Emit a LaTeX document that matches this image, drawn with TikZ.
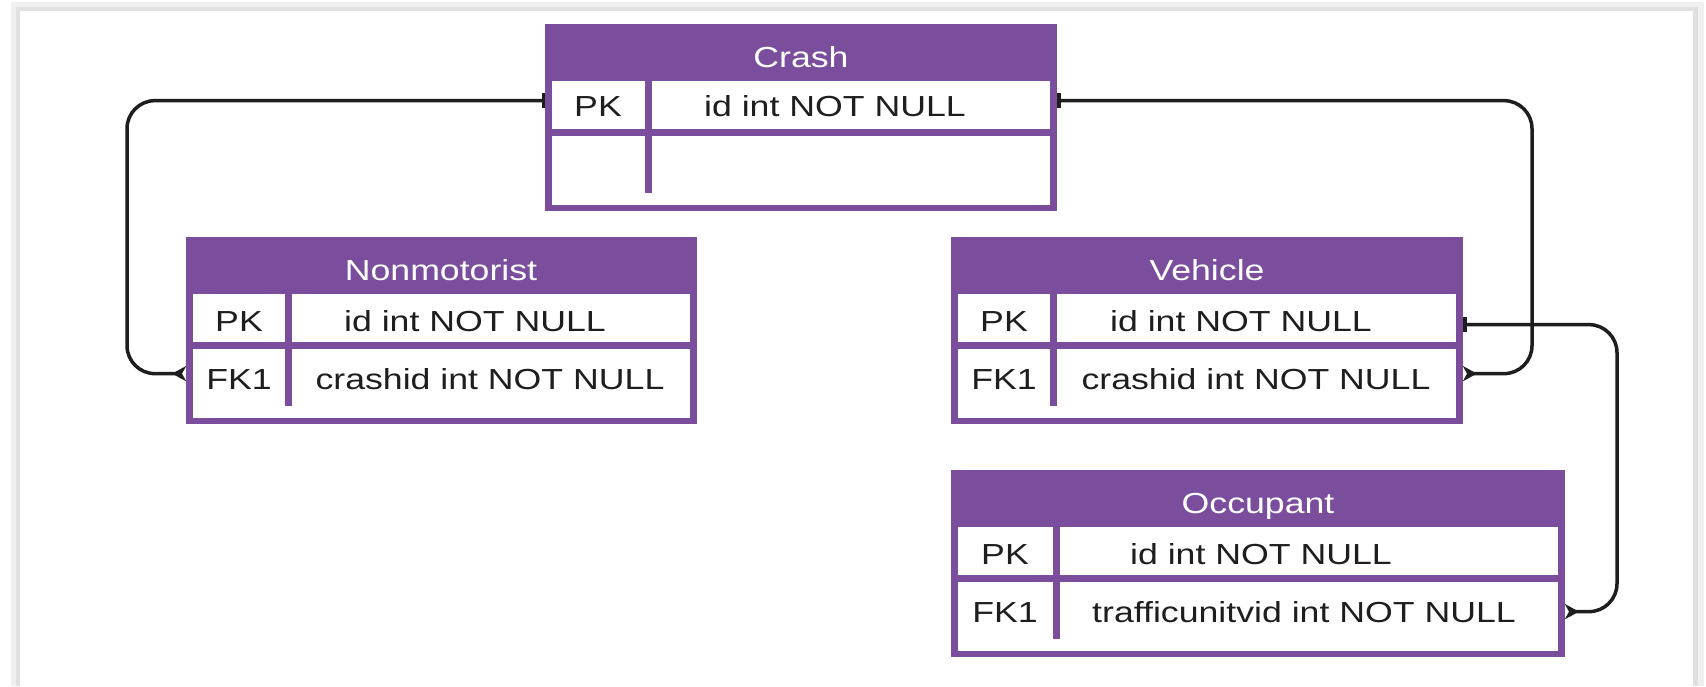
\documentclass[tikz,border=0pt]{standalone}
\usepackage{fontspec}
\setmainfont{Liberation Sans}
\usepackage{graphicx}
\usetikzlibrary{arrows.meta}
\definecolor{erpurple}{RGB}{123, 78, 157}
\definecolor{ink}{RGB}{30, 30, 30}
\newcommand{\wide}[1]{\scalebox{1.23}[1]{#1}}

\begin{document}
\begin{tikzpicture}[
  x = 1pt, y = -1pt,
  tbl/.style = {fill=erpurple, inner sep=0, outer sep=0, anchor=north west},
  cell/.style = {fill=white, inner sep=0, outer sep=0, anchor=north west},
  head/.style = {text=white, inner sep=0, anchor=base, font=\fontsize{29}{32}\selectfont},
  col/.style = {text=ink, inner sep=0, anchor=base, font=\fontsize{29}{32}\selectfont},
  rel/.style = {
    draw=ink, line width=3.5pt, rounded corners=28pt,
    arrows={Bar[width=15pt, line width=3.5pt]-Stealth[reversed, length=14pt, width=15pt, inset=4pt]}
  }
]
  \useasboundingbox (0, 0) rectangle (1706, 686);
  \fill[gray!12] (11, 2) rectangle (1704, 686);
  \fill[gray!24] (16, 7) rectangle (1698, 686);
  \fill[white] (20, 11) rectangle (1693, 686);

  \draw node[tbl, minimum width=512, minimum height=187] (crash) at (545, 24) {};
  \draw node[cell, minimum width=93, minimum height=48] (crashkey) at (552, 81) {};
  \draw node[cell, minimum width=398, minimum height=48] (crashrow) at (652, 81) {};
  \draw node[cell, minimum width=498, minimum height=69] (crashspare) at (552, 136) {};
  \draw node[tbl, minimum width=7, minimum height=57] (crashdiv) at (645, 136) {};
  \draw node[head] (crashtitle) at (801, 67) {\wide{Crash}};
  \draw node[col] (crashpk) at (598, 116) {\wide{PK}};
  \draw node[col] (crashid) at (835, 116) {\wide{id int NOT NULL}};

  \draw node[tbl, minimum width=511, minimum height=187] (nonmot) at (186, 237) {};
  \draw node[cell, minimum width=92, minimum height=48] (nmkey) at (193, 294) {};
  \draw node[cell, minimum width=398, minimum height=48] (nmrow) at (292, 294) {};
  \draw node[cell, minimum width=497, minimum height=69] (nmfkrow) at (193, 349) {};
  \draw node[tbl, minimum width=7, minimum height=57] (nmdiv) at (285, 349) {};
  \draw node[head] (nmtitle) at (441, 280) {\wide{Nonmotorist}};
  \draw node[col] (nmpk) at (239, 331) {\wide{PK}};
  \draw node[col] (nmid) at (475, 331) {\wide{id int NOT NULL}};
  \draw node[col] (nmfk) at (239, 389) {\wide{FK1}};
  \draw node[col] (nmcrashid) at (490, 389) {\wide{crashid int NOT NULL}};

  \draw node[tbl, minimum width=512, minimum height=187] (vehicle) at (951, 237) {};
  \draw node[cell, minimum width=92, minimum height=48] (vhkey) at (958, 294) {};
  \draw node[cell, minimum width=399, minimum height=48] (vhrow) at (1057, 294) {};
  \draw node[cell, minimum width=498, minimum height=69] (vhfkrow) at (958, 349) {};
  \draw node[tbl, minimum width=7, minimum height=57] (vhdiv) at (1050, 349) {};
  \draw node[head] (vhtitle) at (1207, 280) {\wide{Vehicle}};
  \draw node[col] (vhpk) at (1004, 331) {\wide{PK}};
  \draw node[col] (vhid) at (1241, 331) {\wide{id int NOT NULL}};
  \draw node[col] (vhfk) at (1004, 389) {\wide{FK1}};
  \draw node[col] (vhcrashid) at (1256, 389) {\wide{crashid int NOT NULL}};

  \draw node[tbl, minimum width=614, minimum height=187] (occupant) at (951, 470) {};
  \draw node[cell, minimum width=95, minimum height=48] (ockey) at (958, 527) {};
  \draw node[cell, minimum width=498, minimum height=48] (ocrow) at (1060, 527) {};
  \draw node[cell, minimum width=600, minimum height=69] (ocfkrow) at (958, 582) {};
  \draw node[tbl, minimum width=7, minimum height=57] (ocdiv) at (1053, 582) {};
  \draw node[head] (octitle) at (1258, 513) {\wide{Occupant}};
  \draw node[col] (ocpk) at (1005, 564) {\wide{PK}};
  \draw node[col] (ocid) at (1261, 564) {\wide{id int NOT NULL}};
  \draw node[col] (ocfk) at (1005, 622) {\wide{FK1}};
  \draw node[col] (ocunit) at (1304, 622) {\wide{trafficunitvid int NOT NULL}};

  \coordinate (westbus) at (127, 0);
  \coordinate (eastbus) at (1532, 0);
  \coordinate (farbus) at (1617, 0);
  \coordinate (crashlink) at ([yshift=5pt]crashid.center);
  \coordinate (nmlink) at ([yshift=5pt]nmcrashid.center);
  \coordinate (vhlink) at ([yshift=5pt]vhcrashid.center);
  \coordinate (vhidlink) at ([yshift=-4pt]vhid.center);

  \draw[rel] (crash.west |- crashlink) -| (westbus |- nmlink) -- (nonmot.west |- nmlink);
  \draw[rel] (vehicle.east |- vhidlink) -| (farbus |- ocunit) -- (occupant.east |- ocunit);
  \draw[rel] (crash.east |- crashlink) -| (eastbus |- vhlink) -- (vehicle.east |- vhlink);

\end{tikzpicture}
\end{document}
